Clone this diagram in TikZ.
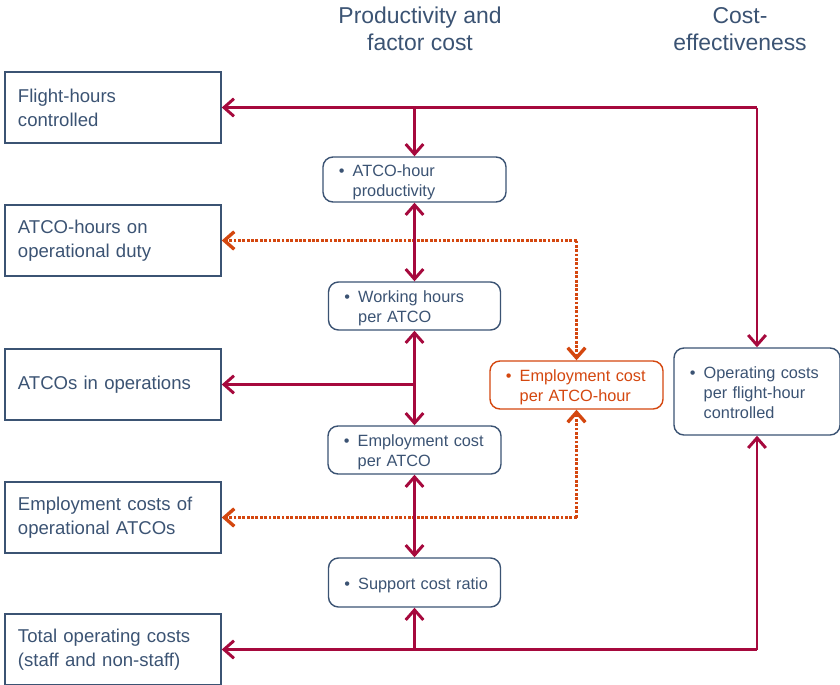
\documentclass[tikz,border=0pt]{standalone}
\usepackage{fontspec}
\setmainfont{Liberation Sans}
\usetikzlibrary{arrows.meta}

\definecolor{slate}{HTML}{3B5373}
\definecolor{crimson}{HTML}{A6093D}
\definecolor{rust}{HTML}{D4470F}

% bullet item with hanging second line
\newcommand{\bitem}[1]{\raisebox{-2pt}[\height][\depth]{\begin{tabular}[c]{@{}l@{\hspace{0.2cm}}l@{}}\textbullet & \begin{tabular}[t]{@{}l@{}}#1\end{tabular}\end{tabular}}}

\begin{document}
\begin{tikzpicture}[x=0.025cm, y=-0.025cm,
	outbox/.style={draw=slate, line width=1pt, text=slate, align=left,
		text width=4.75cm, minimum height=1.775cm, inner xsep=0.325cm,
		font=\fontsize{13.2}{17}\selectfont},
	metric/.style={draw=slate, line width=1pt, text=slate, align=left,
		rounded corners=0.25cm, inner xsep=0.4cm, inner ysep=0pt,
		font=\fontsize{11.6}{14.2}\selectfont},
	heading/.style={text=slate, align=center, font=\fontsize{16.3}{19.2}\selectfont},
	link/.style={crimson, line width=2.1pt, -{Straight Barb[length=2.5mm,width=4.4mm]}},
	both/.style={link, {Straight Barb[length=2.5mm,width=4.4mm]}-{Straight Barb[length=2.5mm,width=4.4mm]}},
	dotlink/.style={rust, line width=2.4pt, dash pattern=on 2pt off 1.1pt,
		-{Straight Barb[length=2.5mm,width=4.4mm]}}]

	\useasboundingbox (0,0) rectangle (840,684);

	% Column headings
	\node[heading] (hprod) at (420,29) {Productivity and\\factor cost};
	\node[heading] (hcost) at (740,29) {Cost-\\effectiveness};

	% Input and output measures
	\node[outbox] (flight) at (113,107.5) {Flight-hours\\controlled};
	\node[outbox] (duty) at (113,240.5) {ATCO-hours on\\operational duty};
	\node[outbox] (atco) at (113,384.5) {ATCOs in operations};
	\node[outbox] (empc) at (113,517.5) {Employment costs of\\operational ATCOs};
	\node[outbox] (total) at (113,649.5) {Total operating costs\\(staff and non-staff)};

	% Ratios
	\node[metric, text width=3.775cm, minimum height=1.125cm] (prod) at (414.5,179.5) {\bitem{ATCO-hour\\productivity}};
	\node[metric, text width=3.5cm, minimum height=1.2cm] (work) at (414.5,306) {\bitem{Working hours\\per ATCO}};
	\node[metric, text width=3.525cm, minimum height=1.2cm] (empa) at (414.5,450) {\bitem{Employment cost\\per ATCO}};
	\node[metric, text width=3.5cm, minimum height=1.225cm] (sup) at (414.5,582.5) {\bitem{Support cost ratio}};
	\node[metric, draw=rust, text=rust, text width=3.525cm, minimum height=1.2cm] (ecph) at (576.5,385) {\bitem{Employment cost\\per ATCO-hour}};
	\node[metric, text width=3.35cm, minimum height=2.175cm] (ops) at (757,391.5) {\bitem{Operating costs\\per flight-hour\\controlled}};

	% Dotted links to employment cost per ATCO-hour
	\coordinate (otop) at (ecph.north |- duty.east);
	\coordinate (obot) at (ecph.south |- empc.east);
	\draw[dotlink] (otop) -- (duty.east);
	\draw[dotlink] (otop) -- (ecph.north);
	\draw[dotlink] (obot) -- (empc.east);
	\draw[dotlink] (obot) -- (ecph.south);

	% Flight-hours line
	\coordinate (rtop) at (ops.north |- flight.east);
	\draw[link] (rtop) -- (flight.east);
	\draw[link] (rtop) -- (ops.north);
	\draw[link] (prod.north |- flight.east) -- (prod.north);

	% Chain of ratios
	\draw[both] (prod.south) -- (work.north);
	\draw[both] (work.south) -- (empa.north);
	\draw[both] (empa.south) -- (sup.north);
	\draw[link] (work.south |- atco.east) -- (atco.east);

	% Total costs line
	\coordinate (rbot) at (ops.south |- total.east);
	\draw[link] (rbot) -- (total.east);
	\draw[link] (rbot) -- (ops.south);
	\draw[link] (sup.south |- total.east) -- (sup.south);
\end{tikzpicture}
\end{document}
